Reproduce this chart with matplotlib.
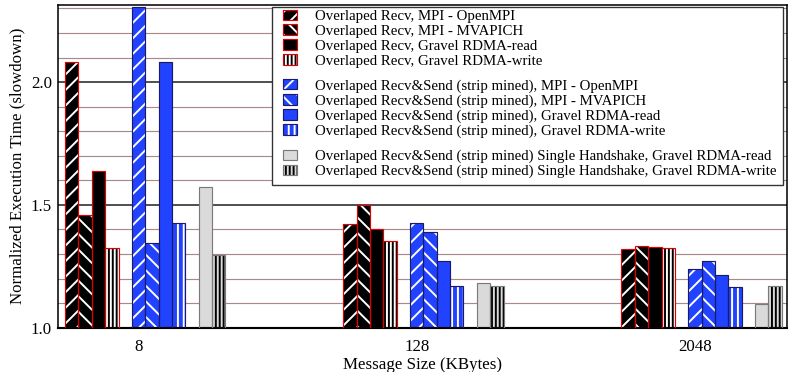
import numpy as np
import matplotlib
matplotlib.use('Agg')
import matplotlib.pyplot as plt
from matplotlib.patches import Patch, Rectangle
from matplotlib.ticker import MultipleLocator

plt.rcParams.update({
    'font.family': 'Liberation Serif',
    'font.size': 8.7,
    'hatch.linewidth': 1.0,
})

# message sizes (KBytes)
sizes = ['8', '128', '2048']

# normalized execution time per series, one value per message size
recv_openmpi = [2.08, 1.423, 1.320]
recv_mvapich = [1.46, 1.500, 1.332]
recv_rdma_read = [1.638, 1.400, 1.328]
recv_rdma_write = [1.324, 1.355, 1.325]
strip_openmpi = [2.307, 1.427, 1.240]
strip_mvapich = [1.346, 1.389, 1.272]
strip_rdma_read = [2.080, 1.272, 1.215]
strip_rdma_write = [1.427, 1.170, 1.165]
single_rdma_read = [1.571, 1.182, 1.097]
single_rdma_write = [1.298, 1.170, 1.170]

labels = [
    'Overlaped Recv, MPI - OpenMPI',
    'Overlaped Recv, MPI - MVAPICH',
    'Overlaped Recv, Gravel RDMA-read',
    'Overlaped Recv, Gravel RDMA-write',
    'Overlaped Recv&Send (strip mined), MPI - OpenMPI',
    'Overlaped Recv&Send (strip mined), MPI - MVAPICH',
    'Overlaped Recv&Send (strip mined), Gravel RDMA-read',
    'Overlaped Recv&Send (strip mined), Gravel RDMA-write',
    'Overlaped Recv&Send (strip mined) Single Handshake, Gravel RDMA-read',
    'Overlaped Recv&Send (strip mined) Single Handshake, Gravel RDMA-write',
]
series = [recv_openmpi, recv_mvapich, recv_rdma_read, recv_rdma_write,
          strip_openmpi, strip_mvapich, strip_rdma_read, strip_rdma_write,
          single_rdma_read, single_rdma_write]

# styles: face, hatch colour, hatch, edge
RED = '#e00000'
BLUE = '#2142ff'
NAVY = '#1a1a66'
GRAY = '#dadada'
GEDGE = '#7a7a7a'
DIAG_F = '///'
DIAG_B = '\\\\\\'
VERT = '|' * 6
styles = [
    ('black', 'white', DIAG_F, RED),
    ('black', 'white', DIAG_B, RED),
    ('black', 'white', '', RED),
    ('black', 'white', VERT, RED),
    (BLUE, 'white', DIAG_F, NAVY),
    (BLUE, 'white', DIAG_B, NAVY),
    (BLUE, 'white', '', NAVY),
    (BLUE, 'white', '|' * 4, NAVY),
    (GRAY, 'black', '', GEDGE),
    (GRAY, 'black', VERT, GEDGE),
]

W_PX, H_PX, DPI = 791, 372, 140
fig = plt.figure(figsize=(W_PX / DPI, H_PX / DPI), dpi=DPI)
ax = fig.add_axes([57.7 / W_PX, (H_PX - 327.7) / H_PX,
                   (787 - 57.7) / W_PX, (327.7 - 4.5) / H_PX])

x = np.arange(len(sizes))
w = 0.048
slots = [0, 1, 2, 3, 5, 6, 7, 8, 10, 11]

handles = []
for vals, (face, hc, hatch, edge), slot in zip(series, styles, slots):
    pos = x + (slot - 5) * w
    h = np.array(vals) - 1.0
    ax.bar(pos, h, w, bottom=1.0, color=face, edgecolor=hc, hatch=hatch,
           linewidth=0, zorder=2)
    ax.bar(pos, h, w, bottom=1.0, fill=False, edgecolor=edge,
           linewidth=0.6, zorder=3)
    handles.append((Patch(facecolor=face, edgecolor=hc, hatch=hatch, linewidth=0),
                    Patch(fill=False, edgecolor=edge, linewidth=0.6)))

ax.set_xlim(-0.2906, 2.331)
ax.set_ylim(1.0, 2.316)
ax.set_xticks(x)
ax.set_xticklabels(sizes)
ax.set_yticks([1.0, 1.5, 2.0])
ax.yaxis.set_minor_locator(MultipleLocator(0.1))
ax.tick_params(axis='both', which='both', length=0)
ax.tick_params(axis='x', pad=6)
ax.tick_params(axis='y', pad=3)
ax.set_axisbelow(True)
ax.yaxis.grid(True, which='major', color='#222222', linewidth=0.8)
ax.yaxis.grid(True, which='minor', color='#a88888', linewidth=0.6)
for s in ax.spines.values():
    s.set_linewidth(0.8)
ax.spines['bottom'].set_linewidth(1.1)

ax.set_xlabel('Message Size (KBytes)', labelpad=1)
ax.set_ylabel('Normalized Execution Time (slowdown)', labelpad=3)

# legend frame and three stacked legend blocks
fig.add_artist(Rectangle((272 / W_PX, 1 - 185 / H_PX), 511 / W_PX, 178 / H_PX,
                         transform=fig.transFigure, facecolor='white',
                         edgecolor='#333333', linewidth=0.7, zorder=3))
blocks = [(0, 4, 9.5), (4, 8, 79), (8, 10, 149.5)]
for i0, i1, top in blocks:
    fig.legend(handles[i0:i1], labels[i0:i1], loc='upper left',
               bbox_to_anchor=(283.3 / W_PX, 1 - top / H_PX),
               frameon=False, borderpad=0, borderaxespad=0,
               fontsize=7.66, handlelength=0.9, handleheight=0.7,
               handletextpad=1.2, labelspacing=0.1)

fig.savefig('out.png', dpi=DPI, facecolor='white')
